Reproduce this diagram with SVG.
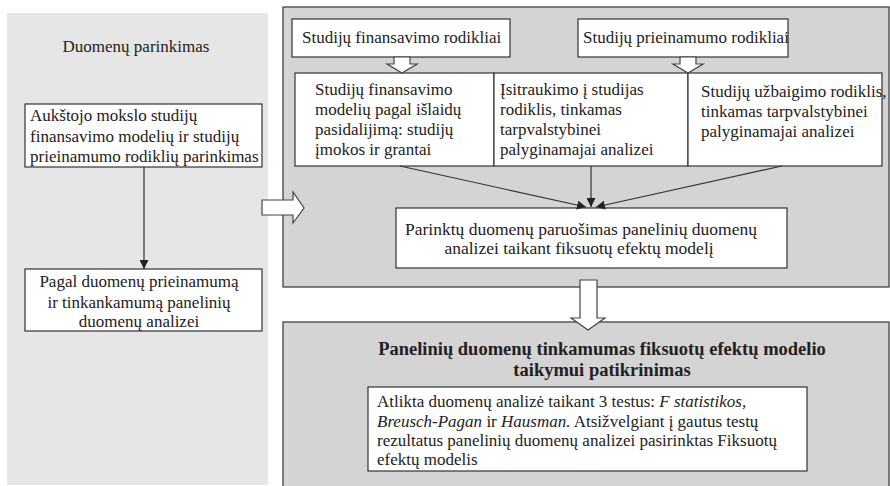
<svg xmlns="http://www.w3.org/2000/svg" width="890" height="486" viewBox="0 0 890 486">
<defs>
<style>
.t{font-family:"Liberation Serif","Times New Roman",serif;font-size:17px;fill:#222}
.b{font-weight:bold;font-size:18.5px}
.i{font-style:italic}
.m{text-anchor:middle}
.box{fill:#fff;stroke:#333;stroke-width:1.2}
.panel{fill:#d4d4d4;stroke:#444;stroke-width:1.3}
.ln{stroke:#333;stroke-width:1.2;fill:none}
.ha{fill:#fff;stroke:#444;stroke-width:1.2;stroke-linejoin:miter}
</style>
<marker id="ah" viewBox="0 0 10 10" refX="10" refY="5" markerWidth="9" markerHeight="9" markerUnits="userSpaceOnUse" orient="auto">
<path d="M0,0 L10,5 L0,10 z" fill="#222"/>
</marker>
</defs>
<rect width="890" height="486" fill="#fff"/>

<g id="panel-left">
<rect x="7" y="13" width="261" height="472" fill="#e6e6e6"/>
<text class="t m" x="136" y="52">Duomenų parinkimas</text>
</g>
<g id="panel-top">
<rect class="panel" x="283" y="7" width="606" height="280"/>
</g>
<g id="panel-bottom">
<rect class="panel" x="283" y="322" width="606" height="170"/>
<text class="t b m" x="602" y="355">Panelinių duomenų tinkamumas fiksuotų efektų modelio</text>
<text class="t b m" x="602" y="376">taikymui patikrinimas</text>
</g>

<g id="node-select">
<rect class="box" x="25" y="104" width="237" height="63"/>
<text class="t" x="30" y="121">Aukštojo mokslo studijų</text>
<text class="t" x="30" y="141.5">finansavimo modelių ir studijų</text>
<text class="t" x="30" y="162">prieinamumo rodiklių parinkimas</text>
</g>
<g id="node-availability">
<rect class="box" x="25" y="269" width="237" height="62"/>
<text class="t m" x="139" y="287">Pagal duomenų prieinamumą</text>
<text class="t m" x="139" y="307.5">ir tinkankamumą panelinių</text>
<text class="t m" x="139" y="327">duomenų analizei</text>
</g>

<g id="node-financing">
<rect class="box" x="292" y="19" width="218" height="38"/>
<text class="t" x="302" y="43">Studijų finansavimo rodikliai</text>
</g>
<g id="node-accessibility">
<rect class="box" x="578" y="19" width="210" height="38"/>
<text class="t" x="583" y="43">Studijų prieinamumo rodikliai</text>
</g>

<g id="node-fin-model">
<rect class="box" x="295" y="73" width="199" height="93"/>
<text class="t" x="315" y="95">Studijų finansavimo</text>
<text class="t" x="315" y="115">modelių pagal išlaidų</text>
<text class="t" x="315" y="135">pasidalijimą: studijų</text>
<text class="t" x="315" y="154.5">įmokos ir grantai</text>
</g>
<g id="node-enrolment">
<rect class="box" x="494" y="73" width="194" height="93"/>
<text class="t" x="500" y="95">Įsitraukimo į studijas</text>
<text class="t" x="500" y="115">rodiklis, tinkamas</text>
<text class="t" x="500" y="135">tarpvalstybinei</text>
<text class="t" x="500" y="154.5">palyginamajai analizei</text>
</g>
<g id="node-completion">
<rect class="box" x="688" y="73" width="194" height="93"/>
<text class="t" x="701" y="97">Studijų užbaigimo rodiklis,</text>
<text class="t" x="701" y="117">tinkamas tarpvalstybinei</text>
<text class="t" x="701" y="137">palyginamajai analizei</text>
</g>

<g id="node-preparation">
<rect class="box" x="396" y="208" width="391" height="60"/>
<text class="t m" x="581" y="235" style="font-size:17.5px">Parinktų duomenų paruošimas panelinių duomenų</text>
<text class="t m" x="579" y="254" style="font-size:17.5px">analizei taikant fiksuotų efektų modelį</text>
</g>

<g id="node-tests">
<rect class="box" x="368" y="387" width="439" height="84"/>
<text class="t" x="377" y="407">Atlikta duomenų analizė taikant 3 testus: <tspan class="i">F statistikos,</tspan></text>
<text class="t" x="377" y="426.5"><tspan class="i">Breusch-Pagan</tspan> ir <tspan class="i">Hausman.</tspan> Atsižvelgiant į gautus testų</text>
<text class="t" x="377" y="446">rezultatus panelinių duomenų analizei pasirinktas Fiksuotų</text>
<text class="t" x="377" y="465">efektų modelis</text>
</g>

<g id="connectors">
<line class="ln" x1="144" y1="167" x2="144" y2="269" marker-end="url(#ah)"/>
<line class="ln" x1="400" y1="166" x2="586" y2="207" marker-end="url(#ah)"/>
<line class="ln" x1="591" y1="166" x2="591" y2="207" marker-end="url(#ah)"/>
<line class="ln" x1="782" y1="166" x2="596" y2="207" marker-end="url(#ah)"/>
<polygon class="ha" points="262,200 293,200 293,192 304,208 293,223 293,215 262,215"/>
<polygon class="ha" points="394,57 410,57 410,64 417,64 402,73 387,64 394,64"/>
<polygon class="ha" points="680,57 696,57 696,64 703,64 688,73 673,64 680,64"/>
<polygon class="ha" points="580,280 597,280 597,318 605,318 588,330 571,318 580,318"/>
</g>
</svg>
